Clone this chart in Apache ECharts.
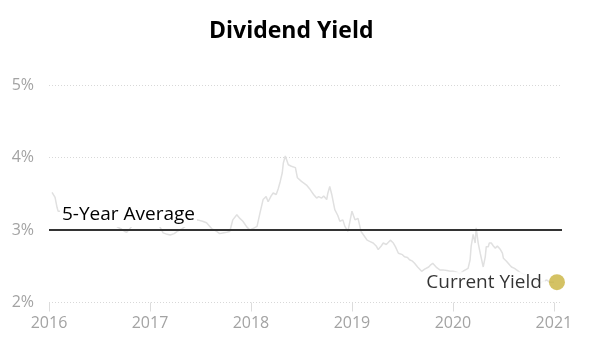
<!DOCTYPE html>
<html>
<head>
<meta charset="utf-8">
<script src="https://cdn.jsdelivr.net/npm/echarts@6/dist/echarts.min.js"></script>
<style>
html,body{margin:0;padding:0;background:#fff;}
#chart{width:597px;height:356px;}
</style>
</head>
<body>
<div id="chart"></div>
<script>
// Decimal-year dates of the yield history
var years = [
2016.03,2016.04,2016.06,2016.08,2016.09,2016.11,2016.16,2016.20,2016.24,2016.28,
2016.31,2016.35,2016.39,2016.45,2016.50,2016.55,2016.58,2016.63,2016.68,2016.72,
2016.75,2016.77,2016.82,2016.87,2016.92,2016.97,2017.02,2017.07,2017.10,2017.13,
2017.17,2017.20,2017.24,2017.27,2017.32,2017.37,2017.42,2017.47,2017.52,2017.56,
2017.61,2017.66,2017.69,2017.72,2017.76,2017.79,2017.82,2017.86,2017.89,2017.92,
2017.96,2017.99,2018.02,2018.06,2018.09,2018.12,2018.15,2018.17,2018.20,2018.22,
2018.25,2018.27,2018.29,2018.31,2018.32,2018.34,2018.37,2018.40,2018.44,2018.46,
2018.50,2018.52,2018.55,2018.58,2018.60,2018.62,2018.65,2018.67,2018.70,2018.72,
2018.75,2018.76,2018.78,2018.80,2018.83,2018.86,2018.88,2018.91,2018.93,2018.96,
2018.98,2019.00,2019.03,2019.06,2019.09,2019.12,2019.15,2019.18,2019.21,2019.24,
2019.26,2019.29,2019.31,2019.34,2019.38,2019.41,2019.43,2019.46,2019.50,2019.52,
2019.55,2019.57,2019.60,2019.62,2019.65,2019.69,2019.72,2019.76,2019.78,2019.80,
2019.84,2019.87,2019.90,2019.94,2019.97,2020.00,2020.03,2020.07,2020.11,2020.15,
2020.17,2020.18,2020.20,2020.22,2020.23,2020.25,2020.27,2020.28,2020.30,2020.32,
2020.33,2020.35,2020.36,2020.38,2020.40,2020.42,2020.44,2020.47,2020.49,2020.50,
2020.53,2020.56,2020.58,2020.61,2020.66,2020.73,2020.80,2020.86,2020.89,2020.93,
2020.96,2021.00
];
// Dividend yield (%)
var yieldPct = [
3.52,3.53,3.45,3.31,3.26,3.26,3.22,3.24,3.19,3.25,
3.32,3.24,3.19,3.16,3.14,3.07,3.12,3.10,3.04,3.01,
2.98,2.97,3.05,3.10,3.14,3.19,3.12,3.14,3.04,2.96,
2.94,2.93,2.95,2.98,3.02,3.07,3.11,3.14,3.12,3.10,
3.02,2.98,2.95,2.96,2.97,2.98,3.14,3.21,3.16,3.12,
3.04,3.00,3.02,3.05,3.24,3.42,3.46,3.39,3.47,3.51,
3.49,3.57,3.67,3.79,3.92,4.02,3.90,3.88,3.86,3.72,
3.67,3.65,3.62,3.57,3.53,3.49,3.44,3.46,3.44,3.47,
3.42,3.50,3.60,3.49,3.28,3.20,3.12,3.14,3.05,2.98,
3.12,3.26,3.14,3.16,2.98,2.92,2.86,2.84,2.82,2.78,
2.73,2.78,2.82,2.80,2.86,2.82,2.77,2.68,2.66,2.63,
2.62,2.59,2.57,2.54,2.49,2.43,2.46,2.49,2.52,2.54,
2.48,2.45,2.45,2.44,2.43,2.43,2.42,2.40,2.44,2.47,
2.59,2.77,2.94,2.82,3.03,2.82,2.68,2.70,2.49,2.63,
2.77,2.77,2.82,2.82,2.78,2.75,2.78,2.73,2.68,2.61,
2.57,2.52,2.49,2.47,2.42,2.37,2.32,2.26,2.29,2.31,
2.28,2.28
];
var fiveYearAverage = 3.0;
var currentYield = [2021.03, 2.28];
var yearTicks = [2016, 2017, 2018, 2019, 2020, 2021];
var titleText = 'Dividend Yield';
var avgLabel = '5-Year Average';
var currentLabel = 'Current Yield';

var lineData = years.map(function (y, i) { return [y, yieldPct[i]]; });

var chart = echarts.init(document.getElementById('chart'), null, {renderer: 'canvas'});
var font = 'Open Sans';
chart.setOption({
  animation: false,
  backgroundColor: '#fff',
  title: {
    text: titleText,
    left: 204,
    top: 15,
    textStyle: {fontFamily: font, fontWeight: 'bold', fontSize: 23, color: '#000'}
  },
  grid: {left: 49, right: 35, top: 85, bottom: 53.5, containLabel: false},
  xAxis: {
    type: 'value',
    min: 2016,
    max: 2021.08,
    interval: 1,
    axisLine: {show: false},
    splitLine: {show: false},
    axisTick: {show: true, customValues: yearTicks, length: 9, lineStyle: {color: '#dcdcdc', width: 1}},
    axisLabel: {
      customValues: yearTicks,
      color: '#a3a3a3', fontFamily: font, fontSize: 16, margin: 13,
      formatter: function (v) { return String(v); }
    }
  },
  yAxis: {
    type: 'value',
    min: 2,
    max: 5,
    interval: 1,
    axisLine: {show: false},
    axisTick: {show: false},
    splitLine: {show: true, lineStyle: {color: '#d8d8d8', type: [1, 2], width: 1}},
    axisLabel: {color: '#a3a3a3', fontFamily: font, fontSize: 16, margin: 15, formatter: '{value}%'}
  },
  series: [
    {
      type: 'line',
      data: lineData,
      showSymbol: false,
      symbol: 'none',
      lineStyle: {color: '#e0e0e0', width: 1.5},
      z: 2,
      silent: true
    },
    {
      type: 'line',
      data: [],
      z: 4,
      markLine: {
        silent: true,
        symbol: ['none', 'none'],
        lineStyle: {color: '#333', width: 2, type: 'solid'},
        label: {
          show: true,
          position: 'insideStartTop',
          formatter: avgLabel,
          fontFamily: font,
          fontSize: 19,
          color: '#000',
          backgroundColor: '#fff',
          padding: [1, 2, 3, 2],
          distance: [11, 3]
        },
        data: [{yAxis: fiveYearAverage}]
      }
    },
    {
      type: 'scatter',
      data: [currentYield],
      symbolSize: 16,
      itemStyle: {color: '#c9b33d'},
      z: 5,
      label: {
        show: true,
        position: 'left',
        distance: 4,
        formatter: currentLabel,
        fontFamily: font,
        fontSize: 19,
        color: '#000',
        backgroundColor: '#fff',
        padding: [1, 3, 1, 3]
      }
    }
  ]
});
</script>
</body>
</html>
